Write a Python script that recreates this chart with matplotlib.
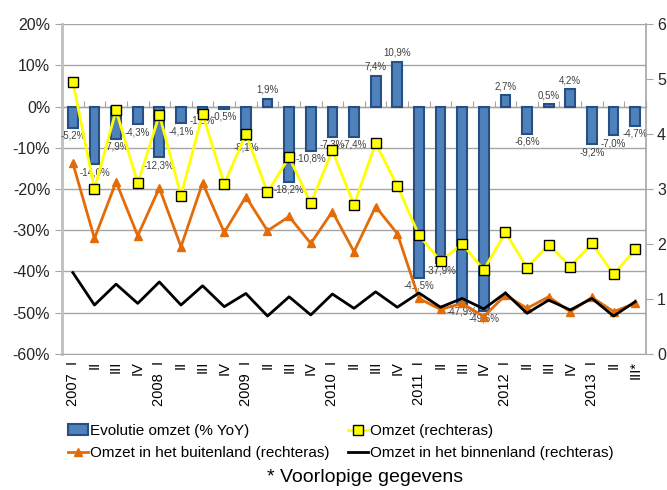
import numpy as np
import matplotlib.pyplot as plt
from matplotlib.patches import Patch
from matplotlib.lines import Line2D

# Data
years = ['2007', '2008', '2009', '2010', '2011', '2012', '2013']
quarters = ['I', 'II', 'III', 'IV']
labels = []
for y in years:
    for q in quarters:
        labels.append(q)
labels = labels[:27]
labels[-1] = 'III*'
labels = [(years[i // 4] + '  ' + l) if i % 4 == 0 else l for i, l in enumerate(labels)]

evolutie = [-5.2, -14.0, -7.9, -4.3, -12.3, -4.1, -1.5, -0.5, -8.1, 1.9, -18.2, -10.8, -7.3, -7.4,
            7.4, 10.9, -41.5, -37.9, -47.9, -49.6, 2.7, -6.6, 0.5, 4.2, -9.2, -7.0, -4.7]
omzet = [4.95, 3.00, 4.43, 3.10, 4.35, 2.88, 4.36, 3.09, 4.00, 2.94, 3.58, 2.74, 3.70, 2.71,
         3.83, 3.06, 2.16, 1.69, 2.00, 1.53, 2.21, 1.57, 1.99, 1.59, 2.01, 1.45, 1.90]
buitenland = [3.47, 2.10, 3.13, 2.15, 3.02, 1.95, 3.11, 2.21, 2.86, 2.24, 2.50, 2.01, 2.59, 1.86,
              2.68, 2.19, 1.01, 0.81, 0.92, 0.68, 1.07, 0.83, 1.04, 0.77, 1.03, 0.77, 0.92]
binnenland = [1.48, 0.89, 1.27, 0.92, 1.31, 0.89, 1.24, 0.86, 1.10, 0.69, 1.04, 0.71, 1.09, 0.83,
              1.13, 0.85, 1.11, 0.85, 1.01, 0.82, 1.11, 0.74, 0.98, 0.80, 1.01, 0.69, 0.95]

plt.rcParams['font.family'] = ['Liberation Sans', 'DejaVu Sans']

fig = plt.figure(figsize=(6.67, 4.9), dpi=100)
ax = fig.add_axes([0.093, 0.2776, 0.8755, 0.6734])
x = np.arange(len(evolutie))
grid = '#A6A6A6'

ax.bar(x, evolutie, width=0.45, color='#4F81BD', edgecolor='#264F83', linewidth=1.5, zorder=2)
for xi, v in zip(x, evolutie):
    txt = ('%.1f%%' % v).replace('.', ',')
    if v < 0:
        ax.annotate(txt, (xi, v), xytext=(0, -2), textcoords='offset points', ha='center', va='top',
                    fontsize=7, color='#404040', zorder=5)
    else:
        ax.annotate(txt, (xi, v), xytext=(0, 3), textcoords='offset points', ha='center', va='bottom',
                    fontsize=7, color='#404040', zorder=5)

ax.set_xlim(-0.5, len(x) - 0.5)
ax.set_ylim(-60, 20)
ax.set_yticks(np.arange(-60, 21, 10))
ax.set_yticklabels(['%d%%' % t for t in range(-60, 21, 10)], fontsize=11.5, color='#262626')
ax.yaxis.grid(True, color=grid, linewidth=1)
ax.set_axisbelow(True)
ax.tick_params(axis='y', length=5, color=grid)
ax.set_xticks(x)
ax.set_xticklabels(labels, rotation=90, fontsize=10.5, va='top', ha='center')
ax.tick_params(axis='x', length=0, pad=5)
ax.spines['top'].set_visible(False)
ax.spines['left'].set_color('#BFBFBF')
ax.spines['left'].set_linewidth(2)
ax.spines['bottom'].set_color(grid)
ax.spines['right'].set_visible(False)

# category axis at 0%
sec = ax.secondary_xaxis(0.75)
sec.set_xticks(np.arange(-0.5, len(x), 1))
sec.set_xticklabels([])
sec.tick_params(length=4, color=grid, direction='out')
sec.spines['bottom'].set_color(grid)
sec.spines['bottom'].set_linewidth(1.2)

ax2 = ax.twinx()
ax2.set_ylim(0, 6)
ax2.set_yticks(range(0, 7))
ax2.set_yticklabels([str(t) for t in range(0, 7)], fontsize=11.5, color='#262626')
ax2.tick_params(length=5, color=grid, pad=3)
ax2.spines['right'].set_color(grid)
ax2.spines['right'].set_linewidth(1.2)
for s in ['top', 'left', 'bottom']:
    ax2.spines[s].set_visible(False)

ax2.plot(x, omzet, color='#FFFF00', linewidth=2, marker='s', markersize=7,
         markerfacecolor='#FFFF00', markeredgecolor='black', markeredgewidth=1, zorder=4)
ax2.plot(x, buitenland, color='#E36C09', linewidth=2, marker='^', markersize=6,
         markerfacecolor='#E36C09', markeredgecolor='#E36C09', zorder=3)
ax2.plot(x, binnenland, color='black', linewidth=2, zorder=3)

# legend filled column-wise, so order entries to read row-wise
handles = [
    Patch(facecolor='#4F81BD', edgecolor='#264F83', linewidth=1.5),
    Line2D([], [], color='#E36C09', linewidth=2, marker='^', markersize=6),
    Line2D([], [], color='#FFFF00', linewidth=2, marker='s', markersize=7,
           markerfacecolor='#FFFF00', markeredgecolor='black'),
    Line2D([], [], color='black', linewidth=2),
]
texts = ['Evolutie omzet (% YoY)', 'Omzet in het buitenland (rechteras)',
         'Omzet (rechteras)', 'Omzet in het binnenland (rechteras)']
fig.legend(handles, texts, loc='upper left', bbox_to_anchor=(0.102, 0.135), ncol=2,
           frameon=False, prop={'size': 11}, handlelength=1.3,
           handletextpad=0.15, columnspacing=1.2, labelspacing=0.55, borderaxespad=0,
           borderpad=0)
fig.text(0.547, 0.025, '* Voorlopige gegevens', ha='center', va='center', fontsize=14)

plt.savefig('out.png', dpi=100)
